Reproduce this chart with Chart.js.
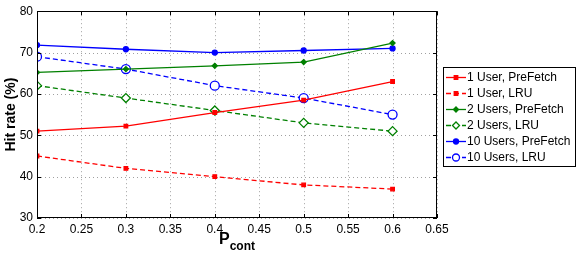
<!DOCTYPE html>
<html>
<head>
<meta charset="utf-8">
<script src="https://cdn.jsdelivr.net/npm/chart.js@4"></script>
<style>
  html, body { margin: 0; padding: 0; background: #fff; }
  #wrap { width: 581px; height: 254px; position: relative; }
</style>
</head>
<body>
<div id="wrap"><canvas id="c"></canvas></div>
<script>
// data
const pcont = [0.2, 0.3, 0.4, 0.5, 0.6];
const user1Prefetch = [51, 52.2, 55.5, 58.5, 63];
const user1Lru = [45, 42, 40, 38, 37];
const users2Prefetch = [65.2, 66, 66.8, 67.7, 72.3];
const users2Lru = [62, 59, 56, 53, 51];
const users10Prefetch = [71.8, 70.8, 70, 70.5, 71];
const users10Lru = [69, 66, 62, 59, 55];
const seriesNames = ["1 User, PreFetch", "1 User, LRU", "2 Users, PreFetch",
  "2 Users, LRU", "10 Users, PreFetch", "10 Users, LRU"];
const xTicks = [0.2, 0.25, 0.3, 0.35, 0.4, 0.45, 0.5, 0.55, 0.6, 0.65];
const yTicks = [30, 40, 50, 60, 70, 80];

const RED = "#ff0000", GREEN = "#008000", BLUE = "#0000ff";
const FONT = "'Liberation Sans', Arial, sans-serif";

function mk(label, vals, color, dashed, style, radius, filled) {
  return {
    label,
    data: pcont.map((x, i) => ({ x, y: vals[i] })),
    borderColor: color,
    backgroundColor: color,
    borderWidth: 1.3,
    borderDash: dashed ? [5, 3] : [],
    pointStyle: style,
    pointRadius: radius,
    pointBorderWidth: 1.3,
    pointBorderColor: color,
    pointBackgroundColor: filled ? color : "#fff",
    tension: 0
  };
}

const datasets = [
  mk(seriesNames[0], user1Prefetch, RED, false, "rect", 2.5, true),
  mk(seriesNames[1], user1Lru, RED, true, "rect", 2.5, true),
  mk(seriesNames[2], users2Prefetch, GREEN, false, "rectRot", 2.5, true),
  mk(seriesNames[3], users2Lru, GREEN, true, "rectRot", 4.5, false),
  mk(seriesNames[4], users10Prefetch, BLUE, false, "circle", 2.5, true),
  mk(seriesNames[5], users10Lru, BLUE, true, "circle", 4.5, false)
];

/* dotted grid under the lines */
const grid = {
  id: "grid",
  beforeDatasetsDraw(chart) {
    const ctx = chart.ctx;
    const a = chart.chartArea;
    const xs = chart.scales.x, ys = chart.scales.y;
    ctx.save();
    ctx.strokeStyle = "#a0a0a0";
    ctx.lineWidth = 1;
    ctx.setLineDash([1, 3]);
    ctx.beginPath();
    xTicks.forEach(t => {
      const px = Math.round(xs.getPixelForValue(t)) + 0.5;
      ctx.moveTo(px, a.top); ctx.lineTo(px, a.bottom);
    });
    yTicks.forEach(t => {
      const py = Math.round(ys.getPixelForValue(t)) + 0.5;
      ctx.moveTo(a.left, py); ctx.lineTo(a.right, py);
    });
    ctx.stroke();
    ctx.restore();
  }
};

/* box, inner ticks, axis titles, legend */
const decor = {
  id: "decor",
  afterDraw(chart) {
    const ctx = chart.ctx;
    const a = chart.chartArea;
    const xs = chart.scales.x, ys = chart.scales.y;
    ctx.save();
    ctx.strokeStyle = "#000";
    ctx.lineWidth = 1;
    ctx.strokeRect(Math.round(a.left) + 0.5, Math.round(a.top) + 0.5,
      Math.round(a.right - a.left) - 1, Math.round(a.bottom - a.top) - 1);
    ctx.beginPath();
    xTicks.forEach(t => {
      const px = Math.round(xs.getPixelForValue(t)) + 0.5;
      ctx.moveTo(px, a.bottom); ctx.lineTo(px, a.bottom - 4);
      ctx.moveTo(px, a.top); ctx.lineTo(px, a.top + 4);
    });
    yTicks.forEach(t => {
      const py = Math.round(ys.getPixelForValue(t)) + 0.5;
      ctx.moveTo(a.left, py); ctx.lineTo(a.left + 4, py);
      ctx.moveTo(a.right, py); ctx.lineTo(a.right - 4, py);
    });
    ctx.stroke();

    // y title
    ctx.fillStyle = "#000";
    ctx.font = "bold 14px " + FONT;
    ctx.textAlign = "center";
    ctx.textBaseline = "middle";
    ctx.translate(11, (a.top + a.bottom) / 2);
    ctx.rotate(-Math.PI / 2);
    ctx.fillText("Hit rate (%)", 0, 0);
    ctx.restore();

    // x title with subscript
    ctx.save();
    ctx.fillStyle = "#000";
    ctx.textBaseline = "alphabetic";
    ctx.textAlign = "left";
    ctx.font = "bold 16px " + FONT;
    const pw = ctx.measureText("P").width;
    ctx.font = "bold 12px " + FONT;
    const sw = ctx.measureText("cont").width;
    const x0 = (a.left + a.right) / 2 - (pw + sw) / 2;
    ctx.font = "bold 16px " + FONT;
    ctx.fillText("P", x0, 244);
    ctx.font = "bold 12px " + FONT;
    ctx.fillText("cont", x0 + pw, 250);
    ctx.restore();

    // legend
    ctx.save();
    const lx = 443, ly = 67, lw = 132, lh = 99;
    ctx.fillStyle = "#fff";
    ctx.fillRect(lx, ly, lw, lh);
    ctx.strokeStyle = "#000";
    ctx.lineWidth = 1;
    ctx.strokeRect(lx + 0.5, ly + 0.5, lw, lh);
    ctx.font = "12px " + FONT;
    ctx.textBaseline = "middle";
    chart.data.datasets.forEach((ds, i) => {
      const yy = ly + 10.5 + i * 16;
      ctx.strokeStyle = ds.borderColor;
      ctx.lineWidth = 1.3;
      ctx.setLineDash(ds.borderDash);
      ctx.beginPath();
      ctx.moveTo(lx + 3, yy); ctx.lineTo(lx + 23, yy);
      ctx.stroke();
      ctx.setLineDash([]);
      ctx.fillStyle = ds.pointBackgroundColor;
      ctx.strokeStyle = ds.pointBorderColor;
      Chart.helpers.drawPoint(ctx, {
        pointStyle: ds.pointStyle,
        radius: ds.pointRadius > 3 ? 3.5 : ds.pointRadius,
        borderWidth: 1.3,
        rotation: 0
      }, lx + 13, yy);
      ctx.fillStyle = "#000";
      ctx.fillText(ds.label, lx + 24, yy + 0.5);
    });
    ctx.restore();
  }
};

new Chart(document.getElementById("c"), {
  type: "line",
  data: { datasets },
  options: {
    responsive: true,
    maintainAspectRatio: false,
    animation: false,
    layout: { padding: { left: 0, right: 144, top: 8, bottom: 0 } },
    plugins: { legend: { display: false }, tooltip: { enabled: false } },
    scales: {
      x: {
        type: "linear",
        min: 0.2, max: 0.65,
        afterBuildTicks: s => { s.ticks = xTicks.map(v => ({ value: v })); },
        afterFit: s => { s.height = 36; },
        grid: { display: false, drawTicks: false },
        border: { display: false },
        ticks: {
          color: "#000", padding: 4,
          font: { family: FONT, size: 12 },
          callback: v => String(Math.round(v * 100) / 100)
        }
      },
      y: {
        min: 30, max: 80,
        afterBuildTicks: s => { s.ticks = yTicks.map(v => ({ value: v })); },
        afterFit: s => { s.width = 37; },
        grid: { display: false, drawTicks: false },
        border: { display: false },
        ticks: {
          color: "#000", padding: 4,
          font: { family: FONT, size: 12 }
        }
      }
    }
  },
  plugins: [grid, decor]
});
</script>
</body>
</html>
